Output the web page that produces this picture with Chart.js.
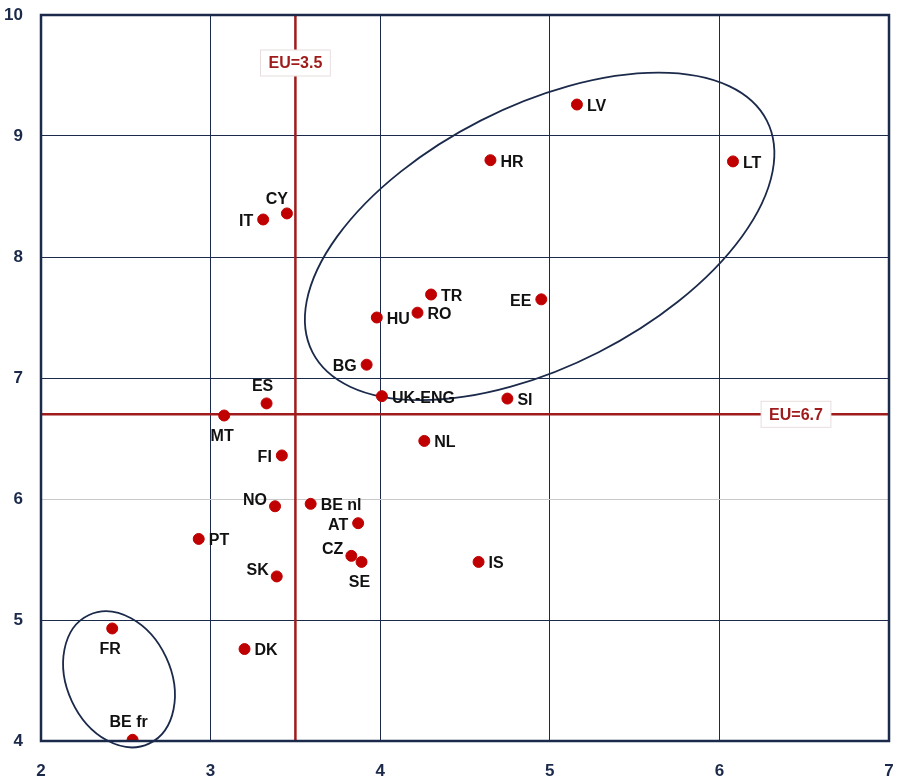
<!DOCTYPE html>
<html>
<head>
<meta charset="utf-8">
<script src="https://cdn.jsdelivr.net/npm/chart.js@4/dist/chart.umd.min.js"></script>
<style>
  html, body { margin: 0; padding: 0; background: #fff; }
  #wrap { width: 902px; height: 782px; }
</style>
</head>
<body>
<div id="wrap"><canvas id="scatter" width="902" height="782"></canvas></div>
<script>
// data
const countries = ['LV', 'HR', 'LT', 'CY', 'IT', 'TR', 'EE', 'RO', 'HU', 'BG', 'ES', 'UK-ENG', 'SI', 'MT',
    'FI', 'NL', 'NO', 'BE nl', 'AT', 'PT', 'CZ', 'SE', 'IS', 'SK', 'FR', 'DK', 'BE fr'];
const xValues = [5.16, 4.65, 6.08, 3.45, 3.31, 4.30, 4.95, 4.22, 3.98, 3.92, 3.33, 4.01, 4.75, 3.08,
    3.42, 4.26, 3.38, 3.59, 3.87, 2.93, 3.83, 3.89, 4.58, 3.39, 2.42, 3.20, 2.54];
const yValues = [9.26, 8.80, 8.79, 8.36, 8.31, 7.69, 7.65, 7.54, 7.50, 7.11, 6.79, 6.85, 6.83, 6.69,
    6.36, 6.48, 5.94, 5.96, 5.80, 5.67, 5.53, 5.48, 5.48, 5.36, 4.93, 4.76, 4.01];
const xTicks = [2, 3, 4, 5, 6, 7];
const yTicks = [4, 5, 6, 7, 8, 9, 10];
const euX = 3.5;
const euY = 6.7;

// where each label sits relative to its dot
const labelSide = {
    'LV': 'right', 'HR': 'right', 'LT': 'right', 'CY': 'aboveleft', 'IT': 'left', 'TR': 'right', 'EE': 'left',
    'RO': 'right', 'HU': 'right', 'BG': 'left', 'ES': 'above', 'UK-ENG': 'right', 'SI': 'right', 'MT': 'below',
    'FI': 'left', 'NL': 'right', 'NO': 'leftup', 'BE nl': 'right', 'AT': 'left', 'PT': 'right', 'CZ': 'leftup',
    'SE': 'below', 'IS': 'right', 'SK': 'leftup', 'FR': 'below', 'DK': 'right', 'BE fr': 'above'
};

// group outlines: centre in data units, radii in pixels
const outlines = [
    { cx: 4.94, cy: 8.17, rx: 255, ry: 130, rot: -27 },
    { cx: 2.46, cy: 4.51, rx: 71, ry: 52, rot: 65 }
];

const NAVY = '#1b2a4a';
const RED = '#c00000';
const EURED = '#a01c1c';
const FONT = '"Liberation Sans Narrow", "Liberation Sans", Arial, sans-serif';

const overlay = {
    id: 'overlay',
    beforeDatasetsDraw(chart) {
        const { ctx, scales: { x, y }, chartArea: a } = chart;
        ctx.save();
        // EU reference lines
        ctx.strokeStyle = EURED;
        ctx.lineWidth = 2.5;
        ctx.beginPath();
        ctx.moveTo(x.getPixelForValue(euX), a.top);
        ctx.lineTo(x.getPixelForValue(euX), a.bottom);
        ctx.moveTo(a.left, y.getPixelForValue(euY));
        ctx.lineTo(a.right, y.getPixelForValue(euY));
        ctx.stroke();

        // outlines
        ctx.strokeStyle = NAVY;
        ctx.lineWidth = 1.8;
        outlines.forEach(o => {
            ctx.beginPath();
            ctx.ellipse(x.getPixelForValue(o.cx), y.getPixelForValue(o.cy), o.rx, o.ry, o.rot * Math.PI / 180, 0, Math.PI * 2);
            ctx.stroke();
        });

        // EU labels
        ctx.font = 'bold 16px ' + FONT;
        ctx.textAlign = 'center';
        ctx.textBaseline = 'middle';
        const tag = (txt, px, py) => {
            const w = ctx.measureText(txt).width + 16;
            ctx.fillStyle = '#fff';
            ctx.fillRect(px - w / 2, py - 13, w, 26);
            ctx.strokeStyle = '#e8dede';
            ctx.lineWidth = 1;
            ctx.strokeRect(px - w / 2, py - 13, w, 26);
            ctx.fillStyle = EURED;
            ctx.fillText(txt, px, py + 1);
        };
        tag('EU=' + euX, x.getPixelForValue(euX), a.top + 48);
        tag('EU=' + euY, a.right - 93, y.getPixelForValue(euY));
        ctx.restore();
    },
    afterDatasetsDraw(chart) {
        const { ctx } = chart;
        const meta = chart.getDatasetMeta(0);
        ctx.save();
        ctx.font = 'bold 16px ' + FONT;
        ctx.fillStyle = '#111';
        ctx.textBaseline = 'middle';
        meta.data.forEach((pt, i) => {
            const name = countries[i];
            const side = labelSide[name];
            let tx = pt.x, ty = pt.y;
            if (side === 'right') { ctx.textAlign = 'left'; tx += 10; ty += 2; }
            else if (side === 'left') { ctx.textAlign = 'right'; tx -= 10; ty += 2; }
            else if (side === 'leftup') { ctx.textAlign = 'right'; tx -= 8; ty -= 6; }
            else if (side === 'above') { ctx.textAlign = 'center'; tx -= 4; ty -= 17; }
            else if (side === 'aboveleft') { ctx.textAlign = 'center'; tx -= 10; ty -= 14; }
            else { ctx.textAlign = 'center'; tx -= 2; ty += 21; }
            ctx.fillText(name, tx, ty);
        });
        ctx.restore();
    }
};

const border = {
    id: 'border',
    afterDraw(chart) {
        const { ctx, chartArea: a } = chart;
        ctx.save();
        ctx.strokeStyle = NAVY;
        ctx.lineWidth = 2.5;
        ctx.strokeRect(a.left, a.top, a.right - a.left, a.bottom - a.top);
        ctx.restore();
    }
};

const ctx = document.getElementById('scatter').getContext('2d');
new Chart(ctx, {
    type: 'scatter',
    data: {
        datasets: [{
            data: xValues.map((v, i) => ({ x: v, y: yValues[i] })),
            backgroundColor: RED,
            borderColor: RED,
            pointRadius: 5.5,
            pointHoverRadius: 5.5
        }]
    },
    options: {
        responsive: false,
        animation: false,
        layout: { padding: { top: 15, right: 13, left: 0, bottom: 0 } },
        plugins: { legend: { display: false }, tooltip: { enabled: false } },
        scales: {
            x: {
                min: 2, max: 7,
                afterBuildTicks: s => { s.ticks = xTicks.map(v => ({ value: v })); },
                afterFit: s => { s.height = 41; s.paddingLeft = 0; s.paddingRight = 0; },
                grid: { color: NAVY, lineWidth: 1, drawTicks: false },
                border: { display: false },
                ticks: { padding: 20, color: NAVY, font: { family: FONT, size: 17, weight: 'bold' } }
            },
            y: {
                min: 4, max: 10,
                afterBuildTicks: s => { s.ticks = yTicks.map(v => ({ value: v })); },
                afterFit: s => { s.width = 41; s.paddingTop = 0; s.paddingBottom = 0; },
                grid: {
                    color: c => (c.tick && c.tick.value === 6) ? '#c8c8c8' : NAVY,
                    lineWidth: 1, drawTicks: false
                },
                border: { display: false },
                ticks: { padding: 18, color: NAVY, font: { family: FONT, size: 17, weight: 'bold' } }
            }
        }
    },
    plugins: [overlay, border]
});
</script>
</body>
</html>
